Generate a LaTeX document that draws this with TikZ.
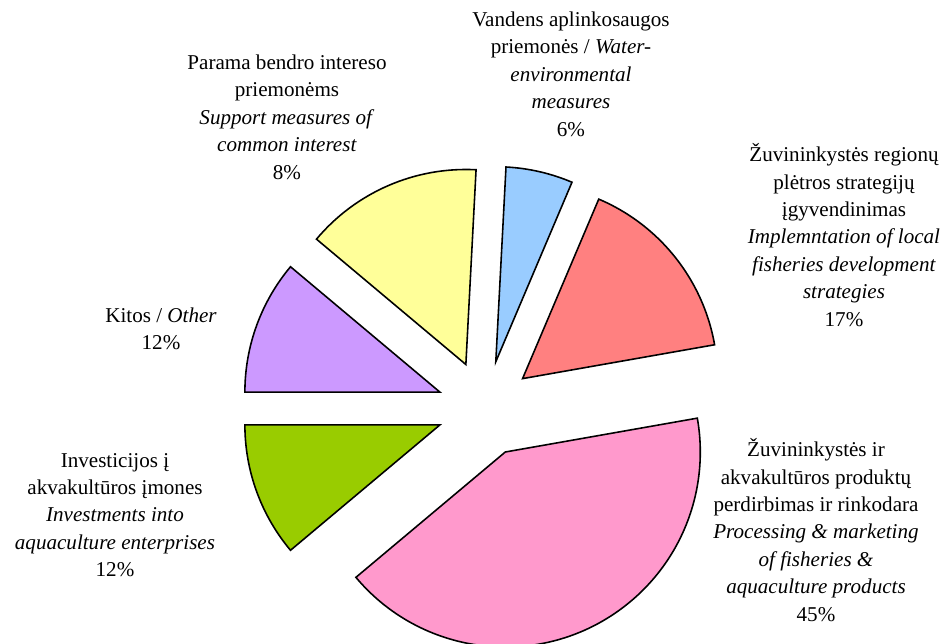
\documentclass[tikz,border=0pt]{standalone}
\usepackage{fontspec}
\setmainfont{Liberation Serif}
\usepackage{tikz}
\usepackage{color}
\definecolor{piepink}{rgb}{1,0.6,0.8}
\definecolor{piered}{rgb}{1,0.5,0.5}
\definecolor{pieblue}{rgb}{0.6,0.8,1}
\definecolor{pieyellow}{rgb}{1,1,0.6}
\definecolor{pieviolet}{rgb}{0.8,0.6,1}
\definecolor{piegreen}{rgb}{0.6,0.8,0}

\begin{document}
\begin{tikzpicture}[slice/.style={draw=black, line width=0.9pt},
    lbl/.style={align=center, inner sep=0pt, font=\fontsize{12}{15.6}\selectfont}]
    \useasboundingbox (-9.7,-4.69) rectangle (9.18,8.17);
    % exploded slices: start angle / end angle / colour
    \foreach \a/\b/\c in {220/370/piepink, 10/67/piered, 67/87/pieblue, 87/140/pieyellow, 140/180/pieviolet, 180/220/piegreen}
    \draw[slice, fill=\c, shift={({(\a+\b)/2}:0.96)}] (0,0) -- (\a:3.9) arc[start angle=\a, end angle=\b, radius=3.9] -- cycle;
    \node[lbl] (support) at (-3.96,5.83) {Parama bendro intereso\\priemonėms\\\textit{Support measures of}\\\textit{common interest}\\8\%};
    \node[lbl] (water) at (1.72,6.69) {Vandens aplinkosaugos\\priemonės / \textit{Water-}\\\textit{environmental}\\\textit{measures}\\6\%};
    \node[lbl] (local) at (7.18,3.47) {Žuvininkystės regionų\\plėtros strategijų\\įgyvendinimas\\\textit{Implemntation of local}\\\textit{fisheries development}\\\textit{strategies}\\17\%};
    \node[lbl] (other) at (-6.48,1.59) {Kitos / \textit{Other}\\12\%};
    \node[lbl] (invest) at (-7.4,-2.13) {Investicijos į\\akvakultūros įmones\\\textit{Investments into}\\\textit{aquaculture enterprises}\\12\%};
    \node[lbl] (process) at (6.62,-2.43) {Žuvininkystės ir\\akvakultūros produktų\\perdirbimas ir rinkodara\\\textit{Processing \& marketing}\\\textit{of fisheries \&}\\\textit{aquaculture products}\\45\%};
  \end{tikzpicture}
\end{document}
